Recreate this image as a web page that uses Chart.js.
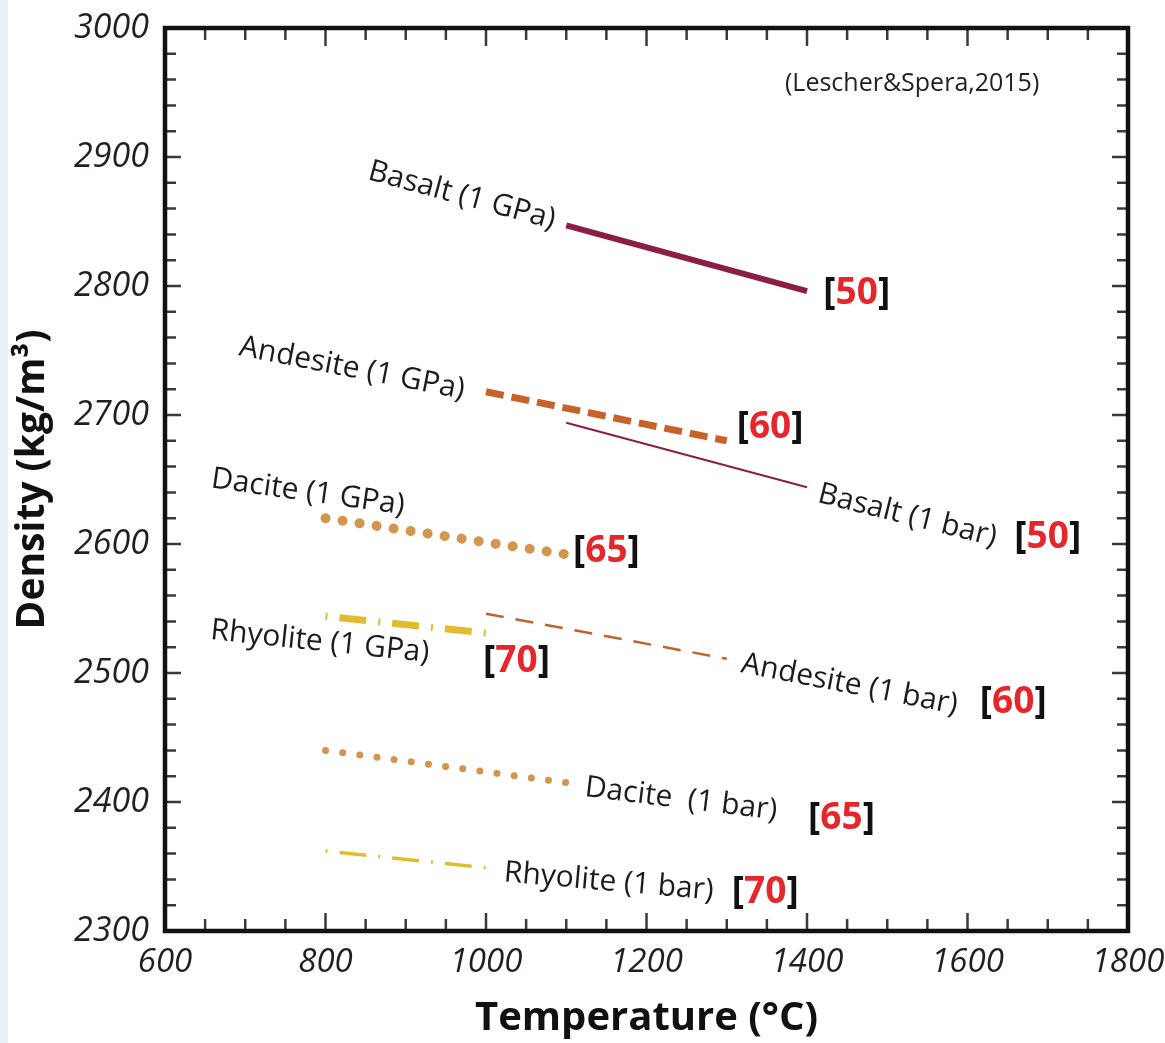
<!DOCTYPE html>
<html>
<head>
<meta charset="utf-8">
<script src="https://cdn.jsdelivr.net/npm/chart.js@4.4.0/dist/chart.umd.min.js"></script>
<style>
  html, body { margin: 0; padding: 0; background: #fff; }
</style>
</head>
<body>
<canvas id="myChart" width="1165" height="1043"></canvas>
<script>
// melt density vs temperature (Lescher & Spera, 2015)
const seriesNames = ["Basalt (1 GPa)", "Andesite (1 GPa)", "Basalt (1 bar)", "Dacite (1 GPa)",
                     "Rhyolite (1 GPa)", "Andesite (1 bar)", "Dacite  (1 bar)", "Rhyolite (1 bar)"];
const seriesTemp = [[1100, 1400], [1000, 1300], [1100, 1400], [800, 1100],
                    [800, 1000], [1000, 1300], [800, 1100], [800, 1000]];
const seriesDensity = [[2847, 2796], [2718, 2680], [2694, 2644], [2620, 2592],
                       [2544, 2531], [2546, 2511], [2440, 2415], [2362, 2349]];
const silica = ["50", "60", "50", "65", "70", "60", "65", "70"];
const xTicks = [600, 800, 1000, 1200, 1400, 1600, 1800];
const yTicks = [2300, 2400, 2500, 2600, 2700, 2800, 2900, 3000];
const source = "(Lescher&Spera,2015)";

// line look for each series
const styles = [
  { color: "#8c1d47", width: 6, dash: [], cap: "butt" },
  { color: "#c8622a", width: 7, dash: [18, 8], cap: "butt" },
  { color: "#8c1d47", width: 2, dash: [], cap: "butt" },
  { color: "#d4964f", width: 10, dash: [0.1, 17.1], cap: "round" },
  { color: "#e0bd30", width: 7, dash: [2, 12, 27, 12], cap: "butt" },
  { color: "#c4622e", width: 2.5, dash: [18, 12], cap: "butt" },
  { color: "#d4964f", width: 7, dash: [0.1, 17.2], cap: "round" },
  { color: "#e0bd30", width: 3.5, dash: [2, 12, 27, 12], cap: "butt" }
];

// where the names and the [SiO2] tags sit (data units) and their tilt
const nameSpots = [[970, 2870, 15], [833, 2736, 11], [1525, 2622, 14], [778, 2640, 8],
                   [793, 2524, 6], [1453, 2491, 11], [1243, 2402, 7], [1153, 2338, 5]];
const tagSpots = [[1462, 2794], [1354, 2690], [1700, 2605], [1150, 2594],
                  [1038, 2509], [1657, 2477], [1443, 2387], [1348, 2330]];
const sourceSpot = [1531, 2957];

const datasets = seriesNames.map((n, i) => ({
  label: n,
  data: seriesTemp[i].map((t, j) => ({ x: t, y: seriesDensity[i][j] })),
  showLine: true,
  borderColor: styles[i].color,
  borderWidth: styles[i].width,
  borderDash: styles[i].dash,
  borderCapStyle: styles[i].cap,
  pointRadius: 0,
  fill: false
}));

const extras = {
  id: "extras",
  beforeDraw(chart) {
    const ctx = chart.ctx;
    ctx.save();
    ctx.fillStyle = "#e8eff8";
    ctx.fillRect(0, 0, 8, chart.height);
    ctx.restore();
  },
  afterDatasetsDraw(chart) {
    const { ctx, chartArea: a, scales: { x, y } } = chart;
    ctx.save();
    // inward ticks on all four sides
    ctx.strokeStyle = "#3a3a3a";
    ctx.lineWidth = 2.5;
    ctx.beginPath();
    for (let t = 600; t <= 1800; t += 50) {
      const px = x.getPixelForValue(t);
      const len = t % 200 === 0 ? 18 : 12;
      ctx.moveTo(px, a.bottom); ctx.lineTo(px, a.bottom - len);
      ctx.moveTo(px, a.top); ctx.lineTo(px, a.top + len);
    }
    for (let v = 2300; v <= 3000; v += 20) {
      const py = y.getPixelForValue(v);
      const len = v % 100 === 0 ? 16 : 11;
      ctx.moveTo(a.left, py); ctx.lineTo(a.left + len, py);
      ctx.moveTo(a.right, py); ctx.lineTo(a.right - len, py);
    }
    ctx.stroke();
    ctx.strokeStyle = "#111";
    ctx.lineWidth = 4.5;
    ctx.strokeRect(a.left, a.top, a.right - a.left, a.bottom - a.top);

    // series names
    ctx.fillStyle = "#1e1b1c";
    ctx.font = "30px 'Open Sans'";
    ctx.textAlign = "center";
    ctx.textBaseline = "middle";
    seriesNames.forEach((n, i) => {
      const s = nameSpots[i];
      ctx.save();
      ctx.translate(x.getPixelForValue(s[0]), y.getPixelForValue(s[1]));
      ctx.rotate(s[2] * Math.PI / 180);
      ctx.fillText(n, 0, 0);
      ctx.restore();
    });

    // [SiO2] tags
    ctx.font = "bold 37px 'Open Sans'";
    ctx.textAlign = "left";
    silica.forEach((v, i) => {
      const wB = ctx.measureText("[").width;
      const wN = ctx.measureText(v).width;
      const wE = ctx.measureText("]").width;
      let px = x.getPixelForValue(tagSpots[i][0]) - (wB + wN + wE) / 2;
      const py = y.getPixelForValue(tagSpots[i][1]);
      ctx.fillStyle = "#111";
      ctx.fillText("[", px, py);
      ctx.fillStyle = "#e5262b";
      ctx.fillText(v, px + wB, py);
      ctx.fillStyle = "#111";
      ctx.fillText("]", px + wB + wN, py);
    });

    // source note
    ctx.font = "25px 'Open Sans'";
    ctx.textAlign = "center";
    ctx.fillStyle = "#222";
    ctx.fillText(source, x.getPixelForValue(sourceSpot[0]), y.getPixelForValue(sourceSpot[1]));
    ctx.restore();
  }
};

const ctx = document.getElementById("myChart").getContext("2d");
const myChart = new Chart(ctx, {
  type: "scatter",
  data: { datasets: datasets },
  options: {
    responsive: false,
    animation: false,
    layout: { padding: { top: 28, right: 37, left: 0, bottom: 0 } },
    plugins: { legend: { display: false }, tooltip: { enabled: false } },
    scales: {
      x: {
        type: "linear",
        min: 600,
        max: 1800,
        afterBuildTicks: (s) => { s.ticks = xTicks.map((v) => ({ value: v })); },
        afterFit: (s) => { s.height = 112; s.paddingLeft = 0; s.paddingRight = 0; },
        ticks: {
          font: { family: "'Open Sans'", size: 33, style: "italic" },
          color: "#231f20",
          padding: 4,
          maxRotation: 0,
          callback: (v) => String(v)
        },
        grid: { display: false },
        border: { display: false },
        title: {
          display: true,
          text: "Temperature (°C)",
          font: { family: "'Open Sans'", size: 40, weight: "bold" },
          color: "#111",
          padding: { top: 0, bottom: 0 }
        }
      },
      y: {
        type: "linear",
        min: 2300,
        max: 3000,
        afterBuildTicks: (s) => { s.ticks = yTicks.map((v) => ({ value: v })); },
        afterFit: (s) => { s.width = 165; s.paddingTop = 0; s.paddingBottom = 0; },
        ticks: {
          font: { family: "'Open Sans'", size: 34, style: "italic" },
          color: "#231f20",
          padding: 8,
          callback: (v) => String(v)
        },
        grid: { display: false },
        border: { display: false },
        title: {
          display: true,
          text: "Density (kg/m³)",
          font: { family: "'Open Sans'", size: 39, weight: "bold" },
          color: "#111",
          padding: { top: 9, bottom: 0 }
        }
      }
    }
  },
  plugins: [extras]
});
</script>
</body>
</html>
